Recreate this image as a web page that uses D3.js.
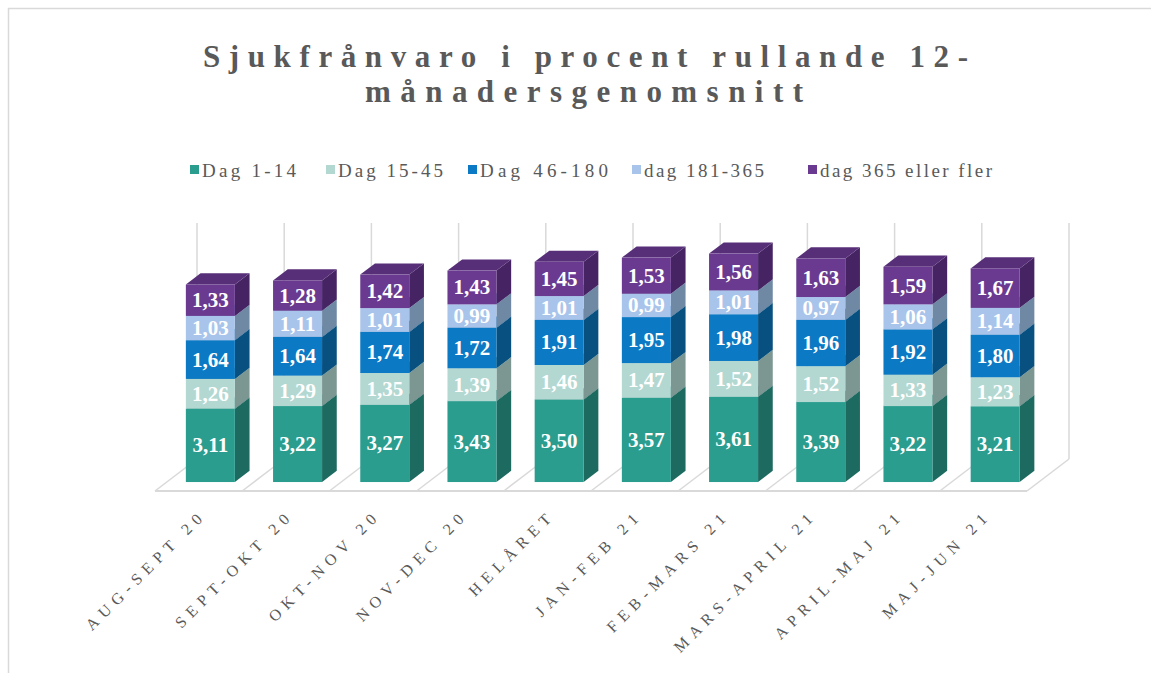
<!DOCTYPE html>
<html>
<head>
<meta charset="utf-8">
<script src="https://cdn.jsdelivr.net/npm/d3@7/dist/d3.min.js"></script>
<style>
  html, body { margin: 0; padding: 0; background: #ffffff; }
  svg { display: block; }
</style>
</head>
<body>
<svg id="chart" width="1151" height="673"></svg>
<script>
// Sick-leave share (%) by absence length, rolling 12-month averages
const categories = ["AUG-SEPT 20", "SEPT-OKT 20", "OKT-NOV 20", "NOV-DEC 20", "HELÅRET",
                    "JAN-FEB 21", "FEB-MARS 21", "MARS-APRIL 21", "APRIL-MAJ 21", "MAJ-JUN 21"];
const seriesNames = ["Dag 1-14", "Dag 15-45", "Dag 46-180", "dag 181-365", "dag 365 eller fler"];
const dag1_14    = [3.11, 3.22, 3.27, 3.43, 3.50, 3.57, 3.61, 3.39, 3.22, 3.21];
const dag15_45   = [1.26, 1.29, 1.35, 1.39, 1.46, 1.47, 1.52, 1.52, 1.33, 1.23];
const dag46_180  = [1.64, 1.64, 1.74, 1.72, 1.91, 1.95, 1.98, 1.96, 1.92, 1.80];
const dag181_365 = [1.03, 1.11, 1.01, 0.99, 1.01, 0.99, 1.01, 0.97, 1.06, 1.14];
const dag365plus = [1.33, 1.28, 1.42, 1.43, 1.45, 1.53, 1.56, 1.63, 1.59, 1.67];
const valueTicks = [0, 10];

const seriesValues = [dag1_14, dag15_45, dag46_180, dag181_365, dag365plus];
const faceColors = [
  { front: "#2a9d8f", side: "#1d6a61", top: "#237f74" },
  { front: "#b3d8d2", side: "#7c9692", top: "#98b8b2" },
  { front: "#0b79c4", side: "#07507f", top: "#0964a2" },
  { front: "#a9c4ea", side: "#6f89a5", top: "#8ea8cb" },
  { front: "#6a3a91", side: "#462464", top: "#572f79" }
];

const svg = d3.select("#chart");

// chart frame
svg.append("rect")
  .attr("x", 8.5).attr("y", 8.5)
  .attr("width", 1200).attr("height", 700)
  .attr("fill", "none").attr("stroke", "#d9d9d9").attr("stroke-width", 1.5);

// title, two lines
const titleLines = [
  { text: "Sjukfrånvaro i procent rullande 12-", x: 203, y: 67, w: 765 },
  { text: "månadersgenomsnitt", x: 365, y: 102, w: 438 }
];
svg.append("text")
  .attr("font-family", "'Liberation Serif', 'Times New Roman', serif")
  .attr("font-weight", "bold").attr("font-size", 31)
  .attr("fill", "#595959")
  .selectAll("tspan").data(titleLines).join("tspan")
  .attr("x", d => d.x).attr("y", d => d.y)
  .attr("textLength", d => d.w).attr("lengthAdjust", "spacing")
  .text(d => d.text);

// legend
const legendX = [190, 326, 468, 632, 808];
const legendW = [94, 105, 128, 120, 172];
const legend = svg.append("g");
seriesNames.forEach((name, i) => {
  legend.append("rect")
    .attr("x", legendX[i]).attr("y", 165)
    .attr("width", 9).attr("height", 9)
    .attr("fill", faceColors[i].front);
  legend.append("text")
    .attr("x", legendX[i] + 12).attr("y", 177)
    .attr("textLength", legendW[i]).attr("lengthAdjust", "spacing")
    .attr("font-family", "'Liberation Serif', 'Times New Roman', serif")
    .attr("font-size", 19).attr("fill", "#595959")
    .text(name);
});

// 3D layout: category band along the floor front edge, depth vector into the scene
const x = d3.scaleBand().domain(categories).range([155, 1027]).paddingInner(0).paddingOuter(0);
const h = d3.scaleLinear().domain(valueTicks).range([0, 236]);
const floorY = 491, depthX = 42, depthY = -32;
const proj = (px, v, t) => [px + t * depthX, floorY + t * depthY - h(v)];
const barW = 49;
const t0 = 0.28, t1 = 0.63;

const grid = svg.append("g").attr("stroke", "#d9d9d9").attr("fill", "none");
const bw = x.bandwidth();
const edges = d3.range(categories.length + 1).map(k => x.range()[0] + k * bw);

// back wall vertical gridlines
edges.forEach(px => {
  const a = proj(px, valueTicks[0], 1), b = proj(px, valueTicks[1], 1);
  grid.append("line").attr("x1", a[0]).attr("y1", a[1]).attr("x2", b[0]).attr("y2", b[1])
    .attr("stroke-width", 1.5);
});
// floor: front edge and category dividers
{
  const a = proj(edges[0], 0, 0), b = proj(edges[edges.length - 1], 0, 0);
  grid.append("line").attr("x1", a[0]).attr("y1", a[1]).attr("x2", b[0]).attr("y2", b[1])
    .attr("stroke-width", 2);
}
edges.forEach(px => {
  const a = proj(px, 0, 0), b = proj(px, 0, 1);
  grid.append("line").attr("x1", a[0]).attr("y1", a[1]).attr("x2", b[0]).attr("y2", b[1])
    .attr("stroke-width", 1.5);
});

// stacked 3D columns
const stack = d3.stack().keys(d3.range(seriesValues.length))
  .value((d, k) => seriesValues[k][d])(d3.range(categories.length));

const bars = svg.append("g");
const pts = arr => arr.map(p => p.join(",")).join(" ");
categories.forEach((cat, ci) => {
  const left = x(cat) + (bw - barW) / 2;
  const right = left + barW;
  stack.forEach((layer, si) => {
    const [v0, v1] = layer[ci];
    const c = faceColors[si];
    // side face
    bars.append("polygon")
      .attr("points", pts([proj(right, v0, t0), proj(right, v0, t1), proj(right, v1, t1), proj(right, v1, t0)]))
      .attr("fill", c.side);
    // top face
    bars.append("polygon")
      .attr("points", pts([proj(left, v1, t0), proj(right, v1, t0), proj(right, v1, t1), proj(left, v1, t1)]))
      .attr("fill", c.top);
    // front face
    const fl = proj(left, v1, t0), fr = proj(right, v0, t0);
    bars.append("rect")
      .attr("x", fl[0]).attr("y", fl[1])
      .attr("width", fr[0] - fl[0]).attr("height", fr[1] - fl[1])
      .attr("fill", c.front);
  });
  // value labels
  stack.forEach((layer, si) => {
    const [v0, v1] = layer[ci];
    const p = proj((left + right) / 2, (v0 + v1) / 2, t0);
    bars.append("text")
      .attr("x", p[0]).attr("y", p[1])
      .attr("text-anchor", "middle").attr("dominant-baseline", "central")
      .attr("font-family", "'Liberation Serif', 'Times New Roman', serif")
      .attr("font-weight", "bold").attr("font-size", 21)
      .attr("fill", "#ffffff")
      .text(d3.format(".2f")(seriesValues[si][ci]).replace(".", ","));
  });
});

// category axis labels, rotated
const axisG = svg.append("g");
categories.forEach(cat => {
  const cx = x(cat) + bw / 2 + t0 * depthX;
  axisG.append("text")
    .attr("transform", `translate(${cx - 3},516) rotate(-45)`)
    .attr("text-anchor", "end")
    .attr("font-family", "'Liberation Serif', 'Times New Roman', serif")
    .attr("font-size", 16).attr("letter-spacing", 6)
    .attr("fill", "#595959")
    .text(cat);
});
</script>
</body>
</html>
